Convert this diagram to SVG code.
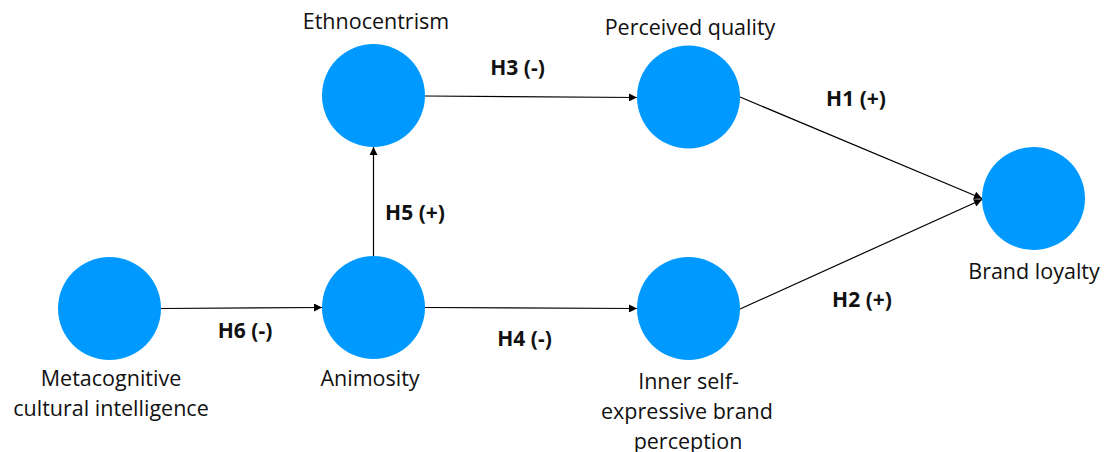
<svg xmlns="http://www.w3.org/2000/svg" width="1105" height="452" viewBox="0 0 1105 452">
  <style>
    .node { fill: #0099ff; }
    .lbl { font-family: "Open Sans", Lato, "Liberation Sans", sans-serif; font-size: 21.5px; fill: #111; text-anchor: middle; }
    .hyp { font-family: "Open Sans", Lato, "Liberation Sans", sans-serif; font-size: 21px; font-weight: bold; fill: #111; text-anchor: middle; }
    .edge { stroke: #000; stroke-width: 1.2; fill: none; marker-end: url(#arrow); }
  </style>
  <defs>
    <marker id="arrow" viewBox="0 0 10 10" refX="10" refY="5" markerWidth="10" markerHeight="8" markerUnits="userSpaceOnUse" orient="auto">
      <path d="M0,0 L10,5 L0,10 Z" fill="#000"/>
    </marker>
  </defs>
  <rect width="1105" height="452" fill="#fff"/>

  <g id="connectors">
    <line class="edge" x1="425" y1="96" x2="637" y2="97.5"/>
    <line class="edge" x1="740" y1="97" x2="982" y2="198.5"/>
    <line class="edge" x1="740" y1="309" x2="982" y2="199.5"/>
    <line class="edge" x1="161" y1="308.5" x2="322" y2="307.5"/>
    <line class="edge" x1="425" y1="307.5" x2="637" y2="308.5"/>
    <line class="edge" x1="373.5" y1="256" x2="373.5" y2="147"/>
  </g>

  <g id="labels">
    <text class="hyp" x="517.5" y="75">H3 (-)</text>
    <text class="hyp" x="856" y="106">H1 (+)</text>
    <text class="hyp" x="862" y="307">H2 (+)</text>
    <text class="hyp" x="245" y="338">H6 (-)</text>
    <text class="hyp" x="524.5" y="346">H4 (-)</text>
    <text class="hyp" x="415" y="220">H5 (+)</text>
  </g>

  <g id="ethnocentrism">
    <circle class="node" cx="373.5" cy="95.5" r="51.5"/>
    <text class="lbl" x="376" y="29">Ethnocentrism</text>
  </g>
  <g id="perceived-quality">
    <circle class="node" cx="688.5" cy="97" r="51.5"/>
    <text class="lbl" x="690" y="35">Perceived quality</text>
  </g>
  <g id="brand-loyalty">
    <circle class="node" cx="1033.5" cy="198.5" r="51.5"/>
    <text class="lbl" x="1034" y="279">Brand loyalty</text>
  </g>
  <g id="metacognitive-cq">
    <circle class="node" cx="109.5" cy="308.5" r="51.5"/>
    <text class="lbl" x="111" y="386">Metacognitive</text>
    <text class="lbl" x="111" y="416">cultural intelligence</text>
  </g>
  <g id="animosity">
    <circle class="node" cx="373.5" cy="307.5" r="51.5"/>
    <text class="lbl" x="370" y="386">Animosity</text>
  </g>
  <g id="inner-self-expressive">
    <circle class="node" cx="688.5" cy="308.5" r="51.5"/>
    <text class="lbl" x="688.5" y="389">Inner self-</text>
    <text class="lbl" x="687" y="419">expressive brand</text>
    <text class="lbl" x="688" y="449">perception</text>
  </g>
</svg>
